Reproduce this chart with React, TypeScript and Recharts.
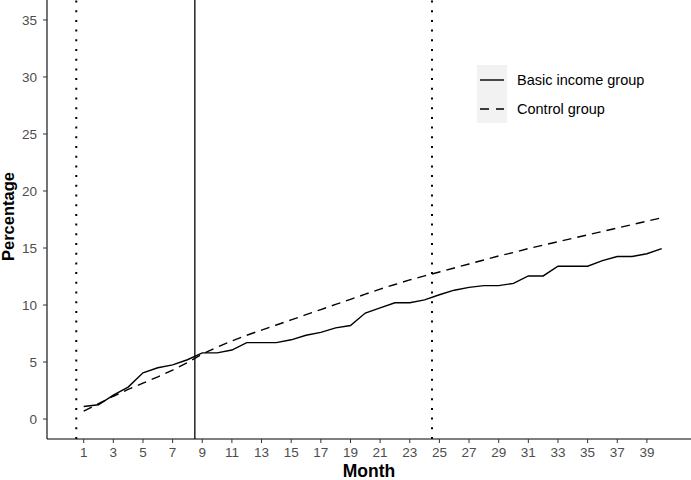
import React from 'react';
import { LineChart, Line, XAxis, YAxis, ReferenceLine } from 'recharts';

// months of follow-up
const months = [
  1, 2, 3, 4, 5, 6, 7, 8, 9, 10, 11, 12, 13, 14, 15, 16, 17, 18, 19, 20,
  21, 22, 23, 24, 25, 26, 27, 28, 29, 30, 31, 32, 33, 34, 35, 36, 37, 38, 39, 40,
];

// cumulative percentage, basic income group
const basicIncome = [
  1.1, 1.25, 2.1, 2.8, 4.05, 4.5, 4.75, 5.2, 5.8, 5.8, 6.05, 6.7, 6.7, 6.7, 6.95, 7.35, 7.6, 8.0, 8.2, 9.3,
  9.75, 10.2, 10.2, 10.45, 10.9, 11.3, 11.55, 11.7, 11.7, 11.9, 12.55, 12.55, 13.4, 13.4, 13.4, 13.9, 14.25, 14.25, 14.5, 14.95,
];

// cumulative percentage, control group
const control = [
  0.7, 1.35, 2.0, 2.6, 3.15, 3.7, 4.3, 4.95, 5.7, 6.3, 6.85, 7.35, 7.8, 8.25, 8.7, 9.15, 9.6, 10.05, 10.5, 10.95,
  11.4, 11.8, 12.2, 12.55, 12.9, 13.25, 13.6, 13.95, 14.3, 14.6, 14.95, 15.25, 15.55, 15.85, 16.15, 16.45, 16.75, 17.05, 17.35, 17.65,
];

const xTicks = [1, 3, 5, 7, 9, 11, 13, 15, 17, 19, 21, 23, 25, 27, 29, 31, 33, 35, 37, 39];
const yTicks = [0, 5, 10, 15, 20, 25, 30, 35];

// vertical markers
const dottedMarks = [0.5, 24.5];
const solidMark = 8.5;

const data = months.map((m, i) => ({ month: m, basic: basicIncome[i], control: control[i] }));

const font = '"Liberation Sans", Arial, sans-serif';
const tickStyle = { fill: '#4D4D4D', fontSize: 13.5, fontFamily: font };

const YLabel = (props: any) => {
  const vb = props.viewBox;
  const cx = 14;
  const cy = vb.y + vb.height / 2 - 3;
  return (
    <text
      x={cx}
      y={cy}
      transform={`rotate(-90 ${cx} ${cy})`}
      textAnchor="middle"
      fontSize={16.5}
      fontWeight="bold"
      fontFamily={font}
      fill="#000"
    >
      Percentage
    </text>
  );
};

const XLabel = (props: any) => {
  const vb = props.viewBox;
  return (
    <text
      x={vb.x + vb.width / 2}
      y={477}
      textAnchor="middle"
      fontSize={17.5}
      fontWeight="bold"
      fontFamily={font}
      fill="#000"
    >
      Month
    </text>
  );
};

const LegendBox = () => (
  <div style={{ position: 'absolute', left: 477, top: 65, fontFamily: font, fontSize: 14.5 }}>
    {[
      { name: 'Basic income group', dash: undefined },
      { name: 'Control group', dash: '9 7' },
    ].map((item) => (
      <div key={item.name} style={{ display: 'flex', alignItems: 'center', height: 29 }}>
        <svg width={30} height={29} style={{ background: '#F2F2F2', display: 'block' }}>
          <line x1={3} x2={27} y1={15} y2={15} stroke="#000" strokeWidth={1.4} strokeDasharray={item.dash} />
        </svg>
        <span style={{ marginLeft: 10, color: '#000' }}>{item.name}</span>
      </div>
    ))}
  </div>
);

export default function App() {
  return (
    <div style={{ position: 'absolute', left: 0, top: 0, width: 691, height: 480, background: '#fff' }}>
      <LineChart width={691} height={480} data={data} margin={{ top: 0, right: 0, bottom: 0, left: 0 }}>
        <XAxis
          dataKey="month"
          type="number"
          domain={[-1.475, 41.975]}
          ticks={xTicks}
          allowDataOverflow
          height={41}
          tick={tickStyle}
          tickSize={4}
          tickMargin={4}
          stroke="#000"
          tickLine={{ stroke: '#333' }}
          axisLine={{ stroke: '#000', strokeWidth: 1.1 }}
          label={<XLabel />}
        />
        <YAxis
          type="number"
          domain={[-1.75, 36.75]}
          ticks={yTicks}
          allowDataOverflow
          width={47}
          tick={tickStyle}
          tickSize={4}
          tickMargin={6}
          tickLine={{ stroke: '#333' }}
          axisLine={{ stroke: '#000', strokeWidth: 1.1 }}
          label={<YLabel />}
        />
        {dottedMarks.map((x) => (
          <ReferenceLine key={x} x={x} stroke="#000" strokeWidth={2} strokeDasharray="2 7.7" />
        ))}
        <ReferenceLine x={solidMark} stroke="#000" strokeWidth={1.3} />
        <Line
          dataKey="basic"
          stroke="#000"
          strokeWidth={1.4}
          dot={false}
          isAnimationActive={false}
          type="linear"
        />
        <Line
          dataKey="control"
          stroke="#000"
          strokeWidth={1.4}
          strokeDasharray="9 6"
          dot={false}
          isAnimationActive={false}
          type="linear"
        />
      </LineChart>
      <LegendBox />
    </div>
  );
}
